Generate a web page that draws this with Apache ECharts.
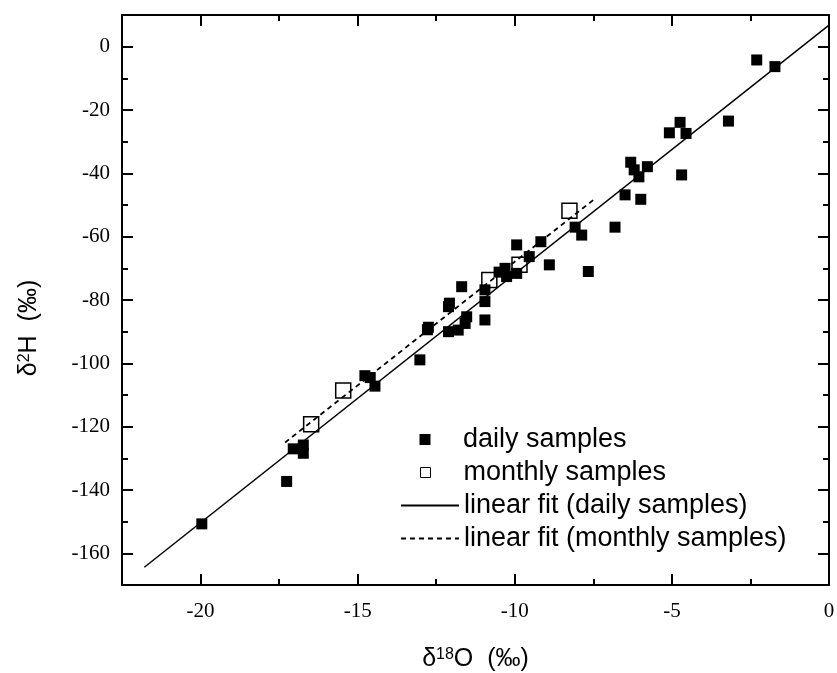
<!DOCTYPE html>
<html>
<head>
<meta charset="utf-8">
<script src="https://cdn.jsdelivr.net/npm/echarts@6/dist/echarts.min.js"></script>
<style>html,body{margin:0;padding:0;background:#fff;overflow:hidden;}#c{width:837px;height:673px;}</style>
</head>
<body>
<div id="c"></div>
<script>
// daily samples
const dailyX = [-2.30, -1.72, -3.20, -4.74, -5.08, -4.55, -6.31, -6.20, -5.78, -6.05, -4.69, -6.49, -5.99,
  -6.81, -7.66, -8.08, -7.87, -8.90, -9.17, -9.94, -9.54, -10.31, -10.26, -9.94, -10.50,
  -11.69, -10.95, -10.95, -10.95, -12.08, -12.11, -11.53, -11.58, -11.80, -12.11, -12.75, -12.78,
  -13.02, -14.77, -14.60, -14.45, -17.05, -16.73, -16.73, -17.26, -19.96];
const dailyY = [-4.2, -6.3, -23.5, -23.9, -27.2, -27.4, -36.5, -38.9, -37.9, -41.1, -40.5, -46.8, -48.2,
  -57.0, -71.0, -57.0, -59.5, -68.9, -61.6, -62.6, -66.3, -70.0, -72.6, -71.6, -71.2,
  -75.8, -76.8, -80.5, -86.3, -81.0, -82.1, -85.3, -87.4, -89.5, -90.0, -88.6, -89.4,
  -98.9, -103.9, -104.5, -107.2, -127.0, -125.8, -128.4, -137.3, -150.7];
// monthly samples
const monthlyX = [-8.26, -9.85, -10.81, -15.46, -16.48];
const monthlyY = [-51.8, -68.9, -73.7, -108.6, -119.2];
// linear fits (end points as drawn)
const fitDailyX = [-21.79, 0];
const fitDailyY = [-164.4, 6.8];
const fitMonthlyX = [-17.31, -7.41];
const fitMonthlyY = [-125.0, -47.7];

const names = ['daily samples', 'monthly samples', 'linear fit (daily samples)', 'linear fit (monthly samples)'];
const xRange = [-22.5, 0];
const yRange = [-170, 10];

const zip = (a, b) => a.map((v, i) => [v, b[i]]);
const serif = 'Liberation Serif, Times New Roman, serif';
const sans = 'Liberation Sans, Arial, sans-serif';

function majorAxis(pos, isX, showLabel, nameOpt) {
  const ax = {
    type: 'value', position: pos, min: isX ? xRange[0] : yRange[0], max: isX ? xRange[1] : yRange[1],
    splitNumber: isX ? 5 : 9,
    axisLine: { show: true, onZero: false, lineStyle: { color: '#000', width: 2 } },
    axisTick: { show: true, inside: true, length: 11, lineStyle: { color: '#000', width: 2 } },
    splitLine: { show: false },
    axisLabel: { show: showLabel, color: '#000', fontFamily: serif, fontSize: 21, margin: isX ? 16 : 12,
      showMinLabel: false, showMaxLabel: isX ? true : false }
  };
  if (nameOpt) Object.assign(ax, nameOpt);
  return ax;
}
function minorAxis(pos, isX) {
  return {
    type: 'value', position: pos, min: isX ? xRange[0] : yRange[0], max: isX ? xRange[1] : yRange[1],
    interval: isX ? 2.5 : 10,
    axisLine: { show: false, onZero: false },
    axisTick: { show: true, inside: true, length: 6, lineStyle: { color: '#000', width: 2 } },
    splitLine: { show: false },
    axisLabel: { show: false }
  };
}

const titleRich = {
  a: { fontFamily: sans, fontSize: 25, color: '#000', verticalAlign: 'bottom' },
  s: { fontFamily: sans, fontSize: 16, color: '#000', verticalAlign: 'top' }
};
const legendText = { fontFamily: sans, fontSize: 27, color: '#000' };

const option = {
  animation: false,
  backgroundColor: '#fff',
  grid: { left: 122, right: 8, top: 15, bottom: 88, containLabel: false, outerBoundsMode: 'none' },
  xAxis: [
    majorAxis('bottom', true, true, { name: '{a|δ}{s|18}{a|O  (‰)}', nameLocation: 'middle', nameGap: 62,
      nameTextStyle: { rich: titleRich } }),
    majorAxis('top', true, false),
    minorAxis('bottom', true),
    minorAxis('top', true)
  ],
  yAxis: [
    majorAxis('left', false, true, { name: '{a|δ}{s|2}{a|H  (‰)}', nameLocation: 'middle', nameGap: 80, nameRotate: 90,
      nameTextStyle: { rich: titleRich, padding: [0, 56, 0, 0] } }),
    majorAxis('right', false, false),
    minorAxis('left', false),
    minorAxis('right', false)
  ],
  legend: [
    { data: [names[0]], left: 419.5, top: 426, padding: 0, itemWidth: 66, itemHeight: 11,
      icon: 'path://M0,0L10,0L10,10L0,10Z', symbolKeepAspect: true,
      itemStyle: { color: '#000', borderWidth: 0 }, textStyle: legendText },
    { data: [names[1]], left: 420, top: 459, padding: 0, itemWidth: 66, itemHeight: 10,
      icon: 'path://M0,0L10,0L10,10L0,10Z', symbolKeepAspect: true,
      itemStyle: { color: '#fff', borderColor: '#000', borderWidth: 1 }, textStyle: legendText },
    { data: [names[2]], left: 400, top: 492, padding: 0, itemWidth: 58, itemHeight: 14,
      itemStyle: { opacity: 0, color: 'rgba(0,0,0,0)', borderWidth: 0 }, textStyle: legendText },
    { data: [names[3]], left: 400, top: 525, padding: 0, itemWidth: 58, itemHeight: 14,
      itemStyle: { opacity: 0, color: 'rgba(0,0,0,0)', borderWidth: 0 }, textStyle: legendText }
  ],
  series: [
    { name: names[2], type: 'line', xAxisIndex: 0, yAxisIndex: 0, data: zip(fitDailyX, fitDailyY),
      symbol: 'none', lineStyle: { color: '#000', width: 1.5, type: 'solid' }, itemStyle: { color: '#000' } },
    { name: names[3], type: 'line', xAxisIndex: 0, yAxisIndex: 0, data: zip(fitMonthlyX, fitMonthlyY),
      symbol: 'none', lineStyle: { color: '#000', width: 1.8, type: [5, 4] }, itemStyle: { color: '#000' } },
    { name: names[0], type: 'scatter', xAxisIndex: 0, yAxisIndex: 0, data: zip(dailyX, dailyY),
      symbol: 'rect', symbolSize: 11, itemStyle: { color: '#000', opacity: 1 } },
    { name: names[1], type: 'scatter', xAxisIndex: 0, yAxisIndex: 0, data: zip(monthlyX, monthlyY),
      symbol: 'rect', symbolSize: 15, itemStyle: { color: 'rgba(255,255,255,0)', borderColor: '#000', borderWidth: 1.5, opacity: 1 } }
  ]
};
const chart = echarts.init(document.getElementById('c'), null, { renderer: 'canvas' });
chart.setOption(option);
</script>
</body>
</html>
